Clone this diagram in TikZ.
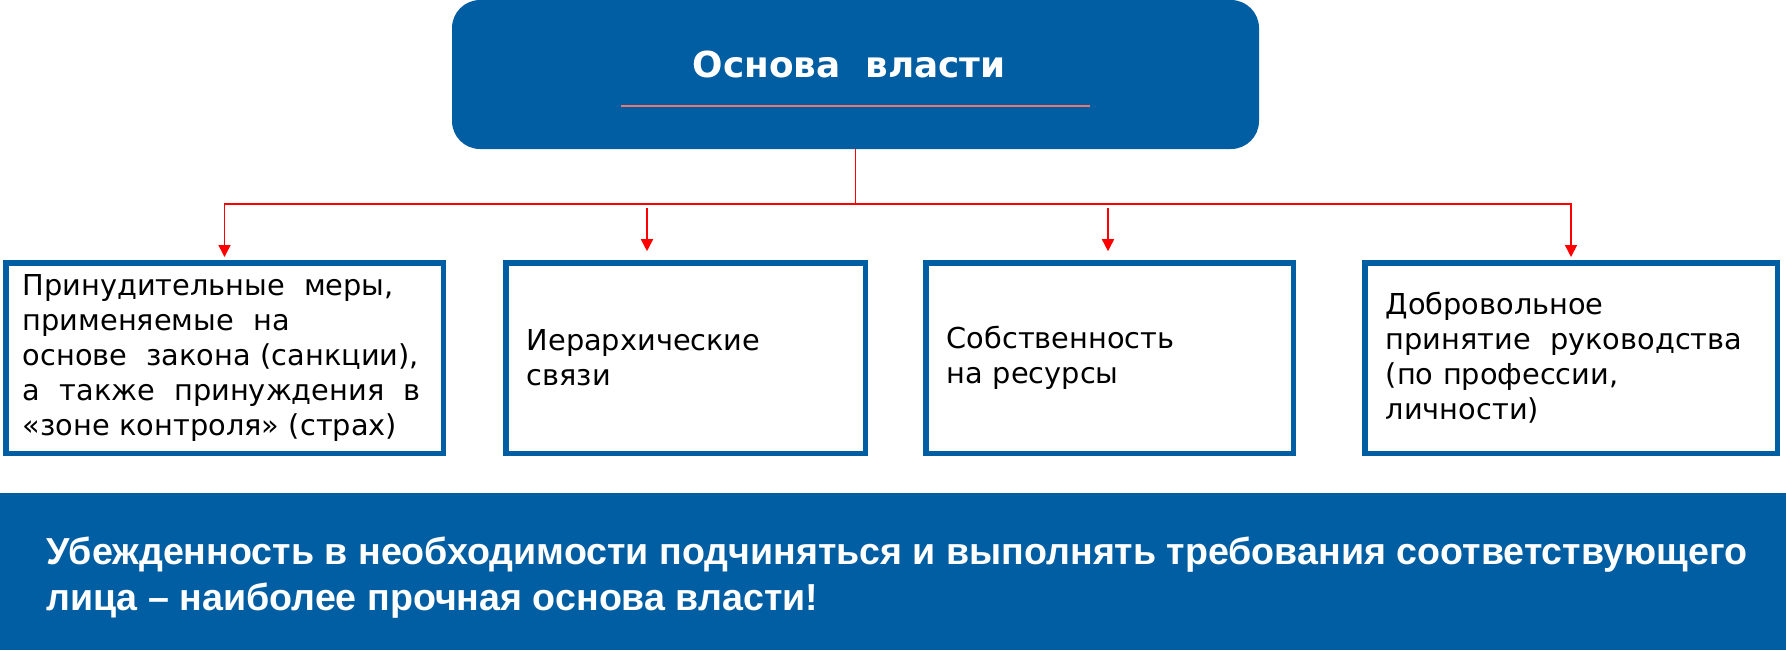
\documentclass[tikz,border=0pt]{standalone}
\usepackage{fontspec}
\setmainfont{DejaVu Sans}
\newfontfamily\bandfont{Liberation Sans}
\usetikzlibrary{arrows.meta,positioning}
\definecolor{powerblue}{HTML}{025EA2}
\definecolor{linkred}{HTML}{FF0000}
\definecolor{rulered}{HTML}{F2756C}
\tikzset{
  basebox/.style={draw=powerblue, line width=2.75pt, fill=white, minimum height=95.25pt,
    inner xsep=10.5pt, align=left, font=\fontsize{14.4}{17.5}\selectfont},
  headbox/.style={fill=powerblue, rounded corners=14pt, minimum width=403.5pt, minimum height=74.5pt},
  link/.style={linkred, line width=0.8pt},
  linkarrow/.style={link, -{Triangle[width=6pt,length=6pt]}},
}
\begin{document}
\begin{tikzpicture}[x=0.5pt,y=-0.5pt]
  \useasboundingbox (0,0) rectangle (1786,650);
  % header
  \node[headbox] (top) at (855.5,74.5) {};
  \node[text=white, font=\bfseries\fontsize{17.9}{20}\selectfont] (title) at (849,64) {Основа\ \ власти};
  \draw[rulered, line width=0.6pt] (621,106) -- (1090,106);
  % the four bases
  \node[basebox, minimum width=218.75pt, text width=201.75pt, inner xsep=8.5pt] (b1) at (224.5,358)
    {Принудительные\ \ меры,\\применяемые\ \ на\\основе\ \ закона (санкции),\\а\ \ также\ \ принуждения\ \ в\\«зоне контроля» (страх)};
  \node[basebox, minimum width=179.75pt, text width=158.75pt] (b2) at (685.5,358)
    {Иерархические\\связи};
  \node[basebox, minimum width=183.75pt, text width=162.75pt] (b3) at (1109.5,358)
    {Собственность\\на ресурсы};
  \node[basebox, minimum width=206.25pt, text width=185.25pt] (b4) at (1571,358)
    {Добровольное\\принятие\ \ руководства\\(по профессии,\\личности)};
  % connectors
  \coordinate (busy) at (0,204);
  \coordinate (s2) at (647,208);
  \coordinate (s3) at (1108,208);
  \draw[linkarrow, shorten >=1.5pt] (top.south) -- (top.south |- busy) -| (b1.north);
  \draw[linkarrow, shorten >=1.5pt] (top.south |- busy) -| (b4.north);
  \draw[linkarrow, shorten >=4.4pt] (s2) -- (s2 |- b2.north);
  \draw[linkarrow, shorten >=4.4pt] (s3) -- (s3 |- b3.north);
  % bottom band
  \fill[powerblue] (0,493) rectangle (1786,650);
  \node[text=white, anchor=west, align=left, inner sep=0pt,
    font=\bandfont\bfseries\fontsize{18.8}{23}\selectfont] (verdict) at (46,578)
    {Убежденность в необходимости подчиняться и выполнять требования соответствующего\\лица – наиболее прочная основа власти!};
\end{tikzpicture}
\end{document}
